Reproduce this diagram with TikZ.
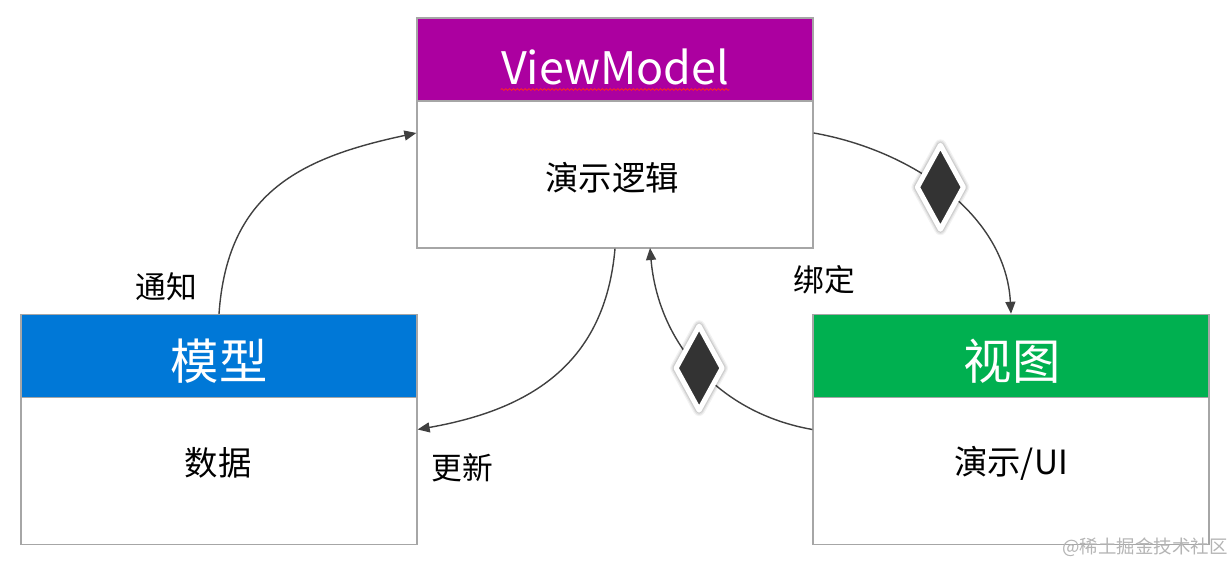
\documentclass[tikz,border=0pt]{standalone}
\usepackage{fontspec}
\setmainfont{Noto Sans CJK SC}
\usetikzlibrary{shapes.geometric,arrows.meta,decorations.pathmorphing}
\definecolor{boxgray}{HTML}{A6A6A6}
\definecolor{vmpurple}{HTML}{AC00A0}
\definecolor{mblue}{HTML}{0078D7}
\definecolor{vgreen}{HTML}{00B050}
\definecolor{linegray}{HTML}{404040}
\definecolor{diafill}{HTML}{333333}
\definecolor{wmgray}{HTML}{B4B4B4}
\begin{document}
\begin{tikzpicture}[x=0.02cm,y=0.02cm,
  box/.style={draw=boxgray,line width=0.8pt,minimum width=7.92cm,minimum height=4.6cm,inner sep=0,fill=white},
  head/.style={draw=boxgray,line width=0.8pt,minimum width=7.92cm,minimum height=1.66cm,inner sep=0,anchor=north},
  htext/.style={text=white,inner sep=0,font=\fontsize{27.5}{32}\selectfont},
  body/.style={text=black,inner sep=0,font=\fontsize{19}{23}\selectfont},
  lbl/.style={text=black,inner sep=0,font=\fontsize{17.5}{21}\selectfont},
  conn/.style={draw=linegray,line width=0.8pt,-{Triangle[length=0.24cm,width=0.2cm]}},
  diapath/.style={fill=diafill,draw=white,line width=0.1cm,line join=round,
    preaction={draw=black,opacity=0.05,line width=0.24cm,line join=round},
    preaction={draw=black,opacity=0.07,line width=0.19cm,line join=round},
    preaction={draw=black,opacity=0.09,line width=0.145cm,line join=round}}
]
\useasboundingbox (0,0) rectangle (1230,567);
% boxes
\node[box] (vm) at (615,434) {};
\node[head,fill=vmpurple] (vmh) at (vm.north) {};
\node[box] (mod) at (219,137.5) {};
\node[head,fill=mblue] (modh) at (mod.north) {};
\node[box] (view) at (1011,137.5) {};
\node[head,fill=vgreen] (viewh) at (view.north) {};
% header texts
\node[htext,font=\fontsize{25.5}{30}\selectfont] (vmname) at (615,500) {ViewModel};
\draw[red!85!white,line width=0.45pt,decorate,decoration={snake,amplitude=0.5pt,segment length=2.2pt}]
  ([yshift=-2.3pt]vmname.south west) -- ([yshift=-2.3pt]vmname.south east);
\node[htext] (modname) at (219,205.5) {模型};
\node[htext] (viewname) at (1012,205.5) {视图};
% body texts
\node[body] (vmtext) at (612,389) {演示逻辑};
\node[body] (modtext) at (218,104) {数据};
\node[body] (viewtext) at (1011,104) {演示/UI};
% labels
\node[lbl] (lnotify) at (166,280) {通知};
\node[lbl] (lupdate) at (462,99) {更新};
\node[lbl] (lbind) at (824,287) {绑定};
% connectors
\draw[conn] (mod.north) to[out=86,in=192,looseness=1.15] (vm.west);
\draw[conn] (vm.south) to[out=-95,in=10,looseness=1.1] (mod.east);
\draw[conn] (vm.east) to[out=-10,in=93,looseness=0.95] coordinate[pos=0.47] (d1) (view.north);
\draw[conn] (view.west) to[out=170,in=-85] coordinate[pos=0.5] (d2) (650,319);
% diamonds on the binding connectors
\path[diapath] (d1) ++(0,42) -- ++(23,-42) -- ++(-23,-42) -- ++(-23,42) -- cycle;
\path[diapath] (d2) ++(0,42) -- ++(23,-42) -- ++(-23,-42) -- ++(-23,42) -- cycle;
% watermark
\node[text=wmgray,inner sep=0,font=\fontsize{10.5}{12}\selectfont] (wm) at (1145,19.5) {@稀土掘金技术社区};
\end{tikzpicture}
\end{document}
